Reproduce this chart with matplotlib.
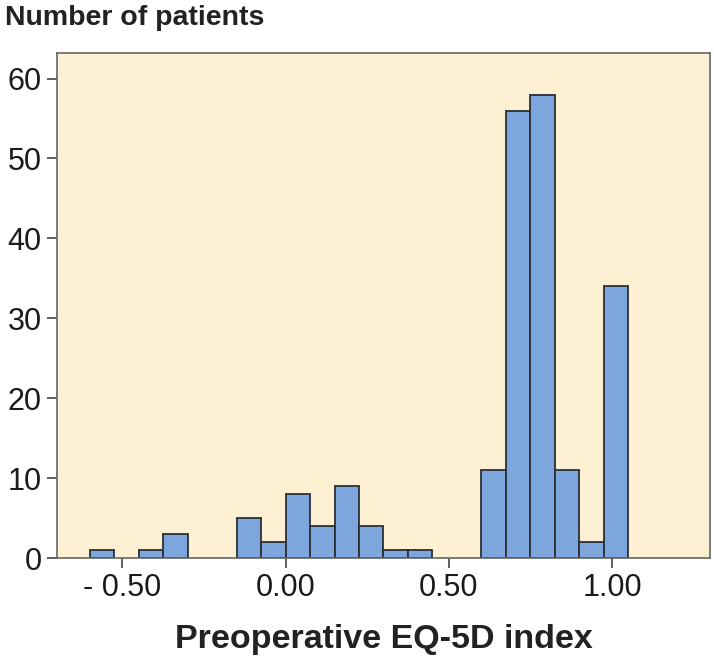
import numpy as np
import matplotlib as mpl
mpl.use('Agg')
import matplotlib.pyplot as plt

# histogram bins, width 0.075
bin_width = 0.075
bin_left = [-0.600, -0.450, -0.375, -0.150, -0.075, 0.000, 0.075, 0.150, 0.225,
            0.300, 0.375, 0.600, 0.675, 0.750, 0.825, 0.900, 0.975]
counts = [1, 1, 3, 5, 2, 8, 4, 9, 4, 1, 1, 11, 56, 58, 11, 2, 34]

x_ticks = [-0.5, 0.0, 0.5, 1.0]
x_ticklabels = ['- 0.50', '0.00', '0.50', '1.00']
y_ticks = [0, 10, 20, 30, 40, 50, 60]

plt.rcParams['font.family'] = ['Liberation Sans', 'DejaVu Sans']

fig = plt.figure(figsize=(7.14, 6.61), dpi=100)
ax = fig.add_axes([0.0798, 0.1558, 0.9146, 0.764])
ax.set_facecolor('#FEF0D3')

ax.bar(bin_left, counts, width=bin_width, align='edge',
       color='#7DA6DC', edgecolor='#2b2f36', linewidth=1.3)

ax.set_xlim(-0.7, 1.3)
ax.set_ylim(0, 63.2)
ax.set_xticks(x_ticks)
ax.set_xticklabels(x_ticklabels)
ax.set_yticks(y_ticks)
ax.tick_params(axis='both', direction='out', length=7, width=1.2,
               color='#444444', labelsize=22, labelcolor='#1a1a1a', pad=4)

for s in ax.spines.values():
    s.set_color('#666666')
    s.set_linewidth(1.2)

fig.text(0.007, 0.993, 'Number of patients', fontsize=20.5, fontweight='bold',
         color='#222222', ha='left', va='top')
ax.set_xlabel('Preoperative EQ-5D index', fontsize=24.5, fontweight='bold',
              color='#222222', labelpad=15)

plt.savefig('out.png', dpi=100)
